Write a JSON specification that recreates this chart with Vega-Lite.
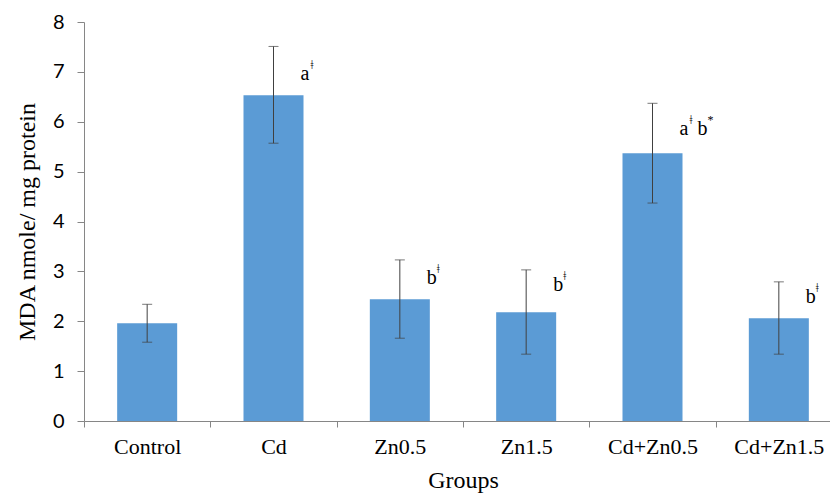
{
  "$schema": "https://vega.github.io/schema/vega-lite/v6.json",
  "autosize": {"type": "none"},
  "width": 758,
  "height": 399,
  "padding": {"left": 84, "top": 22, "right": 0, "bottom": 72},
  "background": "white",
  "config": {"view": {"stroke": null}},
  "datasets": {
    "bars": [
      {"group": "Control", "mean": 1.96, "lo": 1.58, "hi": 2.34},
      {"group": "Cd", "mean": 6.53, "lo": 5.57, "hi": 7.51},
      {"group": "Zn0.5", "mean": 2.44, "lo": 1.66, "hi": 3.23},
      {"group": "Zn1.5", "mean": 2.18, "lo": 1.34, "hi": 3.03},
      {"group": "Cd+Zn0.5", "mean": 5.37, "lo": 4.37, "hi": 6.37},
      {"group": "Cd+Zn1.5", "mean": 2.06, "lo": 1.34, "hi": 2.79}
    ],
    "notes": [
      {"group": "Cd", "y": 7.0, "base": "a", "sup": "ǂ"},
      {"group": "Zn0.5", "y": 2.9, "base": "b", "sup": "ǂ"},
      {"group": "Zn1.5", "y": 2.77, "base": "b", "sup": "ǂ"},
      {"group": "Cd+Zn0.5", "y": 5.9, "base": "a\u00a0\u2009b", "sup": "ǂ\u00a0\u00a0\u00a0\u00a0\u00a0*"},
      {"group": "Cd+Zn1.5", "y": 2.52, "base": "b", "sup": "ǂ"}
    ]
  },
  "encoding": {
    "x": {
      "field": "group", "type": "nominal", "sort": null,
      "scale": {"paddingInner": 0, "paddingOuter": 0},
      "axis": {
        "title": "Groups", "labelAngle": 0, "tickBand": "extent",
        "domainColor": "#868686", "tickColor": "#868686", "tickSize": 6,
        "labelFont": "Liberation Serif", "labelFontSize": 22, "labelColor": "black", "labelPadding": 9,
        "titleFont": "Liberation Serif", "titleFontSize": 24, "titleFontWeight": "normal", "titleColor": "black", "titlePadding": 11
      }
    }
  },
  "layer": [
    {
      "data": {"name": "bars"},
      "mark": {"type": "bar", "color": "#5B9BD5", "width": {"band": 0.475}},
      "encoding": {
        "y": {
          "field": "mean", "type": "quantitative",
          "scale": {"domain": [0, 8], "nice": false},
          "axis": {
            "title": "MDA nmole/ mg protein", "values": [0,1,2,3,4,5,6,7,8], "grid": false,
            "domainColor": "#868686", "tickColor": "#868686", "tickSize": 7,
            "labelFont": "Lato", "labelFontSize": 20, "labelColor": "black", "labelPadding": 13,
            "titleFont": "Liberation Serif", "titleFontSize": 24, "titleFontWeight": "normal", "titleColor": "black", "titlePadding": 13
          }
        }
      }
    },
    {
      "data": {"name": "bars"},
      "mark": {"type": "rule", "color": "#404040", "strokeWidth": 1},
      "encoding": {"y": {"field": "lo", "type": "quantitative"}, "y2": {"field": "hi"}}
    },
    {
      "data": {"name": "bars"},
      "mark": {"type": "tick", "color": "#404040", "size": 10, "thickness": 1, "orient": "horizontal"},
      "encoding": {"y": {"field": "hi", "type": "quantitative"}}
    },
    {
      "data": {"name": "bars"},
      "mark": {"type": "tick", "color": "#404040", "size": 10, "thickness": 1, "orient": "horizontal"},
      "encoding": {"y": {"field": "lo", "type": "quantitative"}}
    },
    {
      "data": {"name": "notes"},
      "mark": {"type": "text", "align": "left", "baseline": "middle", "dx": 27, "dy": 2, "font": "Liberation Serif", "fontSize": 20, "color": "black"},
      "encoding": {"y": {"field": "y", "type": "quantitative"}, "text": {"field": "base"}}
    },
    {
      "data": {"name": "notes"},
      "mark": {"type": "text", "align": "left", "baseline": "middle", "dx": 37, "dy": -7, "font": "Liberation Serif", "fontSize": 12, "color": "black"},
      "encoding": {"y": {"field": "y", "type": "quantitative"}, "text": {"field": "sup"}}
    }
  ]
}
